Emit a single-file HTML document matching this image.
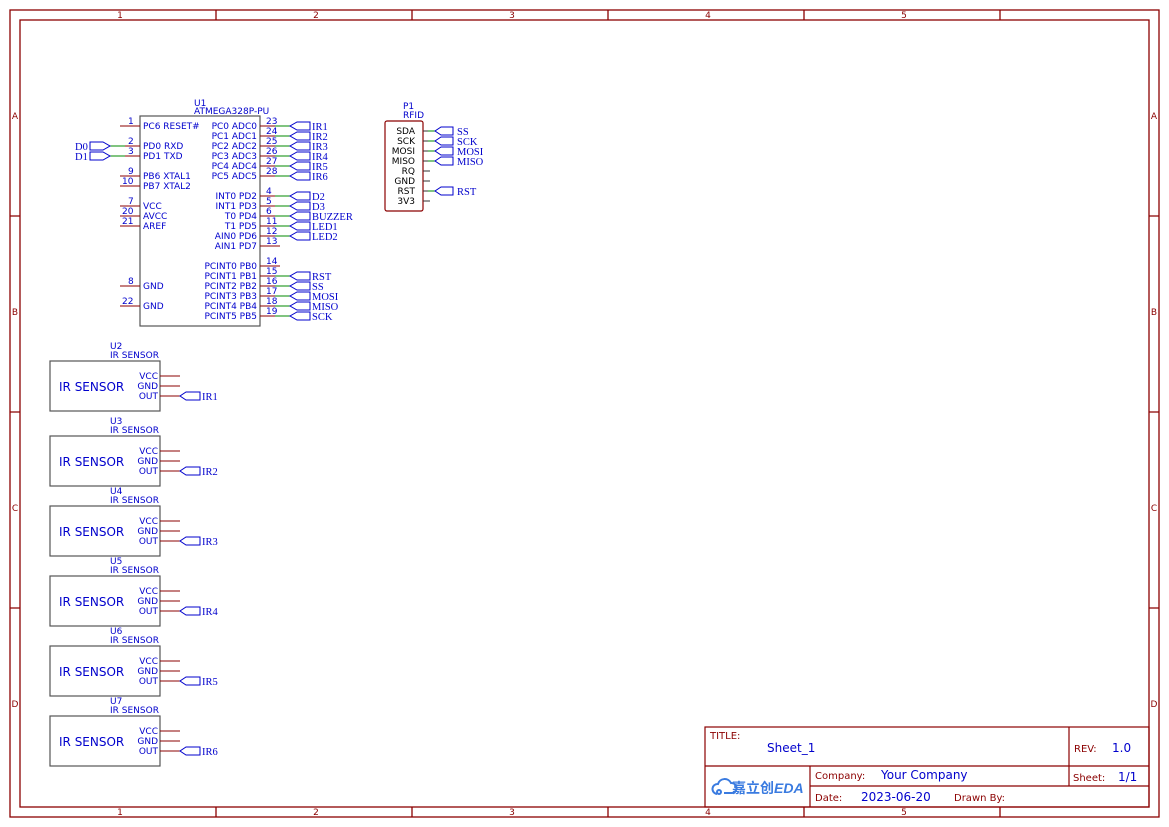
<!DOCTYPE html>
<html><head><meta charset="utf-8"><style>
html,body{margin:0;padding:0;background:#fff;}
svg{display:block;}
.b{font-family:"DejaVu Sans","Liberation Sans",sans-serif;font-size:9px;fill:#0000cc;}
.s{font-family:"Liberation Serif",serif;font-size:10.5px;fill:#0000cc;}
.r{font-family:"DejaVu Sans","Liberation Sans",sans-serif;font-size:10px;fill:#8b0000;}
.t{font-family:"DejaVu Sans","Liberation Sans",sans-serif;font-size:12px;fill:#0000cc;}
</style></head><body>
<svg width="1169" height="827" viewBox="0 0 1169 827" xmlns="http://www.w3.org/2000/svg">
<g fill="none" stroke="#8b0000" stroke-width="1.3">
<rect x="10" y="10" width="1149" height="807"/>
<rect x="20" y="20" width="1129" height="787"/>
<path d="M216 10V20M412 10V20M608 10V20M804 10V20M1000 10V20M216 807V817M412 807V817M608 807V817M804 807V817M1000 807V817M10 216H20M10 412H20M10 608H20M1149 216H1159M1149 412H1159M1149 608H1159"/>
</g>
<g class="r" text-anchor="middle" font-size="9">
<text x="120" y="18" style="font-size:9px">1</text><text x="316" y="18" style="font-size:9px">2</text><text x="512" y="18" style="font-size:9px">3</text><text x="708" y="18" style="font-size:9px">4</text><text x="904" y="18" style="font-size:9px">5</text>
<text x="120" y="815" style="font-size:9px">1</text><text x="316" y="815" style="font-size:9px">2</text><text x="512" y="815" style="font-size:9px">3</text><text x="708" y="815" style="font-size:9px">4</text><text x="904" y="815" style="font-size:9px">5</text>
<text x="15" y="119" style="font-size:9px">A</text><text x="15" y="315" style="font-size:9px">B</text><text x="15" y="511" style="font-size:9px">C</text><text x="15" y="707" style="font-size:9px">D</text>
<text x="1154" y="119" style="font-size:9px">A</text><text x="1154" y="315" style="font-size:9px">B</text><text x="1154" y="511" style="font-size:9px">C</text><text x="1154" y="707" style="font-size:9px">D</text>
</g>

<!-- U1 -->
<rect x="140" y="116" width="120" height="210" fill="none" stroke="#555" stroke-width="1.2"/>
<text class="b" x="194" y="106">U1</text><text class="b" x="194" y="114">ATMEGA328P-PU</text>
<g stroke="#8b0000" stroke-width="1">
<path d="M120 126H140M120 146H140M120 156H140M120 176H140M120 186H140M120 206H140M120 216H140M120 226H140M120 286H140M120 306H140"/>
<path d="M260 126H280M260 136H280M260 146H280M260 156H280M260 166H280M260 176H280M260 196H280M260 206H280M260 216H280M260 226H280M260 236H280M260 246H280M260 266H280M260 276H280M260 286H280M260 296H280M260 306H280M260 316H280"/>
</g>
<g stroke="#008800" stroke-width="1">
<path d="M110 146H125M110 156H125"/>
<path d="M275 126H290M275 136H290M275 146H290M275 156H290M275 166H290M275 176H290M275 196H290M275 206H290M275 216H290M275 226H290M275 236H290M275 276H290M275 286H290M275 296H290M275 306H290M275 316H290"/>
</g>
<g class="b">
<text x="128" y="124">1</text><text x="128" y="144">2</text><text x="128" y="154">3</text><text x="128" y="174">9</text><text x="122" y="184">10</text><text x="128" y="204">7</text><text x="122" y="214">20</text><text x="122" y="224">21</text><text x="128" y="284">8</text><text x="122" y="304">22</text>
<text x="143" y="129">PC6 RESET#</text><text x="143" y="149">PD0 RXD</text><text x="143" y="159">PD1 TXD</text><text x="143" y="179">PB6 XTAL1</text><text x="143" y="189">PB7 XTAL2</text><text x="143" y="209">VCC</text><text x="143" y="219">AVCC</text><text x="143" y="229">AREF</text><text x="143" y="289">GND</text><text x="143" y="309">GND</text>
</g>
<g class="b" text-anchor="end">
<text x="257" y="129">PC0 ADC0</text><text x="257" y="139">PC1 ADC1</text><text x="257" y="149">PC2 ADC2</text><text x="257" y="159">PC3 ADC3</text><text x="257" y="169">PC4 ADC4</text><text x="257" y="179">PC5 ADC5</text>
<text x="257" y="199">INT0 PD2</text><text x="257" y="209">INT1 PD3</text><text x="257" y="219">T0 PD4</text><text x="257" y="229">T1 PD5</text><text x="257" y="239">AIN0 PD6</text><text x="257" y="249">AIN1 PD7</text>
<text x="257" y="269">PCINT0 PB0</text><text x="257" y="279">PCINT1 PB1</text><text x="257" y="289">PCINT2 PB2</text><text x="257" y="299">PCINT3 PB3</text><text x="257" y="309">PCINT4 PB4</text><text x="257" y="319">PCINT5 PB5</text>
</g>
<g class="b">
<text x="266" y="124">23</text><text x="266" y="134">24</text><text x="266" y="144">25</text><text x="266" y="154">26</text><text x="266" y="164">27</text><text x="266" y="174">28</text>
<text x="266" y="194">4</text><text x="266" y="204">5</text><text x="266" y="214">6</text><text x="266" y="224">11</text><text x="266" y="234">12</text><text x="266" y="244">13</text>
<text x="266" y="264">14</text><text x="266" y="274">15</text><text x="266" y="284">16</text><text x="266" y="294">17</text><text x="266" y="304">18</text><text x="266" y="314">19</text>
</g>
<!-- flags right -->
<g fill="none" stroke="#0000cc" stroke-width="1">
<path d="M310 122H297L290 126L297 130H310Z M310 132H297L290 136L297 140H310Z M310 142H297L290 146L297 150H310Z M310 152H297L290 156L297 160H310Z M310 162H297L290 166L297 170H310Z M310 172H297L290 176L297 180H310Z"/>
<path d="M310 192H297L290 196L297 200H310Z M310 202H297L290 206L297 210H310Z M310 212H297L290 216L297 220H310Z M310 222H297L290 226L297 230H310Z M310 232H297L290 236L297 240H310Z"/>
<path d="M310 272H297L290 276L297 280H310Z M310 282H297L290 286L297 290H310Z M310 292H297L290 296L297 300H310Z M310 302H297L290 306L297 310H310Z M310 312H297L290 316L297 320H310Z"/>
<path d="M90 142H103L110 146L103 150H90Z M90 152H103L110 156L103 160H90Z"/>
</g>
<g class="s">
<text x="312" y="130">IR1</text><text x="312" y="140">IR2</text><text x="312" y="150">IR3</text><text x="312" y="160">IR4</text><text x="312" y="170">IR5</text><text x="312" y="180">IR6</text>
<text x="312" y="200">D2</text><text x="312" y="210">D3</text><text x="312" y="220">BUZZER</text><text x="312" y="230">LED1</text><text x="312" y="240">LED2</text>
<text x="312" y="280">RST</text><text x="312" y="290">SS</text><text x="312" y="300">MOSI</text><text x="312" y="310">MISO</text><text x="312" y="320">SCK</text>
<text x="75" y="150">D0</text><text x="75" y="160">D1</text>
</g>

<!-- RFID -->
<text class="b" x="403" y="109">P1</text><text class="b" x="403" y="118">RFID</text>
<rect x="385" y="121" width="38" height="90" rx="2" fill="none" stroke="#8b0000" stroke-width="1.2"/>
<g stroke="#333" stroke-width="1"><path d="M423 131H430M423 141H430M423 151H430M423 161H430M423 171H430M423 181H430M423 191H430M423 201H430"/></g>
<g stroke="#008800" stroke-width="1"><path d="M428 131H435M428 141H435M428 151H435M428 161H435M428 191H435"/></g>
<g fill="none" stroke="#0000cc" stroke-width="1">
<path d="M453 127H441L435 131L441 135H453Z M453 137H441L435 141L441 145H453Z M453 147H441L435 151L441 155H453Z M453 157H441L435 161L441 165H453Z M453 187H441L435 191L441 195H453Z"/>
</g>
<g class="b" text-anchor="end" style="fill:#000">
<text x="415" y="134">SDA</text><text x="415" y="144">SCK</text><text x="415" y="154">MOSI</text><text x="415" y="164">MISO</text><text x="415" y="174">RQ</text><text x="415" y="184">GND</text><text x="415" y="194">RST</text><text x="415" y="204">3V3</text>
</g>
<g class="s"><text x="457" y="135">SS</text><text x="457" y="145">SCK</text><text x="457" y="155">MOSI</text><text x="457" y="165">MISO</text><text x="457" y="195">RST</text></g>

<!-- Sensors -->
<g id="sen">
<g transform="translate(0,0)">
<text class="b" x="110" y="349">U2</text><text class="b" x="110" y="358">IR SENSOR</text>
<rect x="50" y="361" width="110" height="50" fill="none" stroke="#555" stroke-width="1.2"/>
<text class="t" x="59" y="391">IR SENSOR</text>
<path d="M160 376H180M160 386H180M160 396H180" stroke="#8b0000"/>
<path d="M200 392H186L180 396L186 400H200Z" fill="none" stroke="#0000cc"/>
<g class="b" text-anchor="end"><text x="158" y="379">VCC</text><text x="158" y="389">GND</text><text x="158" y="399">OUT</text></g>
<text class="s" x="202" y="400">IR1</text>
</g>
<g transform="translate(0,75)">
<text class="b" x="110" y="349">U3</text><text class="b" x="110" y="358">IR SENSOR</text>
<rect x="50" y="361" width="110" height="50" fill="none" stroke="#555" stroke-width="1.2"/>
<text class="t" x="59" y="391">IR SENSOR</text>
<path d="M160 376H180M160 386H180M160 396H180" stroke="#8b0000"/>
<path d="M200 392H186L180 396L186 400H200Z" fill="none" stroke="#0000cc"/>
<g class="b" text-anchor="end"><text x="158" y="379">VCC</text><text x="158" y="389">GND</text><text x="158" y="399">OUT</text></g>
<text class="s" x="202" y="400">IR2</text>
</g>
<g transform="translate(0,145)">
<text class="b" x="110" y="349">U4</text><text class="b" x="110" y="358">IR SENSOR</text>
<rect x="50" y="361" width="110" height="50" fill="none" stroke="#555" stroke-width="1.2"/>
<text class="t" x="59" y="391">IR SENSOR</text>
<path d="M160 376H180M160 386H180M160 396H180" stroke="#8b0000"/>
<path d="M200 392H186L180 396L186 400H200Z" fill="none" stroke="#0000cc"/>
<g class="b" text-anchor="end"><text x="158" y="379">VCC</text><text x="158" y="389">GND</text><text x="158" y="399">OUT</text></g>
<text class="s" x="202" y="400">IR3</text>
</g>
<g transform="translate(0,215)">
<text class="b" x="110" y="349">U5</text><text class="b" x="110" y="358">IR SENSOR</text>
<rect x="50" y="361" width="110" height="50" fill="none" stroke="#555" stroke-width="1.2"/>
<text class="t" x="59" y="391">IR SENSOR</text>
<path d="M160 376H180M160 386H180M160 396H180" stroke="#8b0000"/>
<path d="M200 392H186L180 396L186 400H200Z" fill="none" stroke="#0000cc"/>
<g class="b" text-anchor="end"><text x="158" y="379">VCC</text><text x="158" y="389">GND</text><text x="158" y="399">OUT</text></g>
<text class="s" x="202" y="400">IR4</text>
</g>
<g transform="translate(0,285)">
<text class="b" x="110" y="349">U6</text><text class="b" x="110" y="358">IR SENSOR</text>
<rect x="50" y="361" width="110" height="50" fill="none" stroke="#555" stroke-width="1.2"/>
<text class="t" x="59" y="391">IR SENSOR</text>
<path d="M160 376H180M160 386H180M160 396H180" stroke="#8b0000"/>
<path d="M200 392H186L180 396L186 400H200Z" fill="none" stroke="#0000cc"/>
<g class="b" text-anchor="end"><text x="158" y="379">VCC</text><text x="158" y="389">GND</text><text x="158" y="399">OUT</text></g>
<text class="s" x="202" y="400">IR5</text>
</g>
<g transform="translate(0,355)">
<text class="b" x="110" y="349">U7</text><text class="b" x="110" y="358">IR SENSOR</text>
<rect x="50" y="361" width="110" height="50" fill="none" stroke="#555" stroke-width="1.2"/>
<text class="t" x="59" y="391">IR SENSOR</text>
<path d="M160 376H180M160 386H180M160 396H180" stroke="#8b0000"/>
<path d="M200 392H186L180 396L186 400H200Z" fill="none" stroke="#0000cc"/>
<g class="b" text-anchor="end"><text x="158" y="379">VCC</text><text x="158" y="389">GND</text><text x="158" y="399">OUT</text></g>
<text class="s" x="202" y="400">IR6</text>
</g>
</g>

<!-- Title block -->
<g fill="none" stroke="#8b0000" stroke-width="1.2">
<rect x="705" y="727" width="444" height="80"/>
<path d="M705 766H1149M810 766V807M1069 727V786M810 786H1149"/>
</g>
<g class="r">
<text x="710" y="739">TITLE:</text>
<text x="1074" y="752">REV:</text>
<text x="815" y="779">Company:</text>
<text x="1073" y="781">Sheet:</text>
<text x="815" y="801">Date:</text>
<text x="954" y="801">Drawn By:</text>
</g>
<g class="t">
<text x="767" y="752">Sheet_1</text>
<text x="1112" y="752">1.0</text>
<text x="881" y="779">Your Company</text>
<text x="1118" y="781">1/1</text>
<text x="861" y="801">2023-06-20</text>
</g>
<g fill="none" stroke="#3a7be0" stroke-width="2">
<path d="M717 794a5 5 0 0 1 1-10a7 7 0 0 1 13-1a5 5 0 0 1 1 10h-8"/>
<circle cx="719" cy="792" r="2"/>
</g>
<text x="732" y="793" style="font-family:'Noto Sans CJK SC',sans-serif;font-size:14px;fill:#3a7be0;font-weight:bold">嘉立创<tspan style="font-family:'Liberation Sans',sans-serif;font-style:italic">EDA</tspan></text>
</svg>
</body></html>
